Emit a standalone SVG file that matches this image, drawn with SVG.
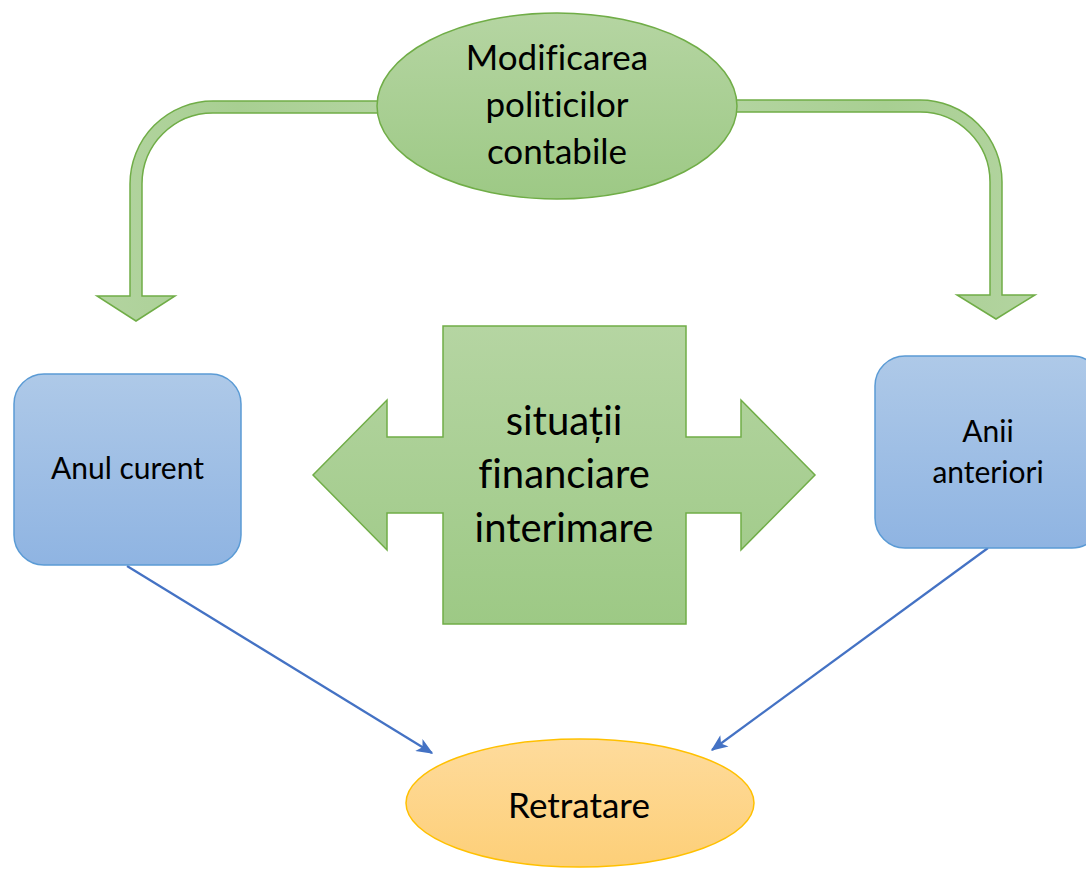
<svg xmlns="http://www.w3.org/2000/svg" width="1086" height="870" viewBox="0 0 1086 870">
<defs>
<linearGradient id="gGreen" x1="0" y1="0" x2="0" y2="1">
<stop offset="0" stop-color="#b5d5a2"/>
<stop offset="1" stop-color="#9dc985"/>
</linearGradient>
<linearGradient id="gGreenH" x1="0" y1="0" x2="1" y2="0">
<stop offset="0" stop-color="#b3d4a0"/>
<stop offset="0.5" stop-color="#a8cf92"/>
<stop offset="1" stop-color="#b3d4a0"/>
</linearGradient>
<linearGradient id="gBlue" x1="0" y1="0" x2="0" y2="1">
<stop offset="0" stop-color="#aec9e8"/>
<stop offset="1" stop-color="#8fb4e2"/>
</linearGradient>
<linearGradient id="gOrange" x1="0" y1="0" x2="0" y2="1">
<stop offset="0" stop-color="#fedb9c"/>
<stop offset="1" stop-color="#fdcf78"/>
</linearGradient>
<marker id="ahb" viewBox="0 0 12 10" refX="11" refY="5" markerWidth="17" markerHeight="14" markerUnits="userSpaceOnUse" orient="auto">
<path d="M0,0 L12,5 L0,10 L3,5 Z" fill="#4472c4"/>
</marker>
</defs>
<style>
.green{fill:url(#gGreen);stroke:#70ad47;stroke-width:1.5}
.bent{fill:url(#gGreenH);stroke:#70ad47;stroke-width:1.5;stroke-linejoin:miter}
.blue{fill:url(#gBlue);stroke:#5b9bd5;stroke-width:1.5}
.orange{fill:url(#gOrange);stroke:#ffc000;stroke-width:1.5}
.conn{stroke:#4472c4;stroke-width:2.2;fill:none}
text{font-family:Lato,"Open Sans","Liberation Sans",sans-serif;fill:#000;text-anchor:middle;font-variant-ligatures:none;font-feature-settings:"liga" 0,"clig" 0}
</style>
<g id="connectors">
<path class="bent" d="M380 101 L213 101 A83 83 0 0 0 130 184 L130 296 L97 296 L136 321 L175 296 L142 296 L142 184 A71 71 0 0 1 213 113 L380 113 Z"/>
<path class="bent" d="M735 100 L920 100 A82 82 0 0 1 1002 182 L1002 295 L1035 295 L996 319 L957 295 L990 295 L990 182 A70 70 0 0 0 920 112 L735 112 Z"/>
<line class="conn" x1="127" y1="566" x2="432" y2="753" marker-end="url(#ahb)"/>
<line class="conn" x1="988" y1="548" x2="712" y2="750" marker-end="url(#ahb)"/>
</g>
<g id="node-modificarea">
<ellipse class="green" cx="557" cy="106" rx="180" ry="93"/>
<text x="557" y="70" font-size="35">Modificarea</text>
<text x="557" y="117" font-size="35">politicilor</text>
<text x="557" y="164" font-size="35">contabile</text>
</g>
<g id="node-situatii">
<polygon class="green" points="313,475 387,400 387,437 443,437 443,326 686,326 686,437 741,437 741,400 815,475 741,550 741,513 686,513 686,624 443,624 443,513 387,513 387,550"/>
<text x="564" y="435" font-size="40">situații</text>
<text x="564" y="488" font-size="40">financiare</text>
<text x="564" y="542" font-size="40">interimare</text>
</g>
<g id="node-anul">
<rect class="blue" x="14" y="374" width="227" height="191" rx="30" ry="30"/>
<text x="127.5" y="479" font-size="30">Anul curent</text>
</g>
<g id="node-anii">
<rect class="blue" x="875" y="356" width="227" height="192" rx="30" ry="30"/>
<text x="988" y="442" font-size="30">Anii</text>
<text x="988" y="483" font-size="30">anteriori</text>
</g>
<g id="node-retratare">
<ellipse class="orange" cx="580" cy="803" rx="174" ry="64"/>
<text x="579" y="818" font-size="35">Retratare</text>
</g>
</svg>
